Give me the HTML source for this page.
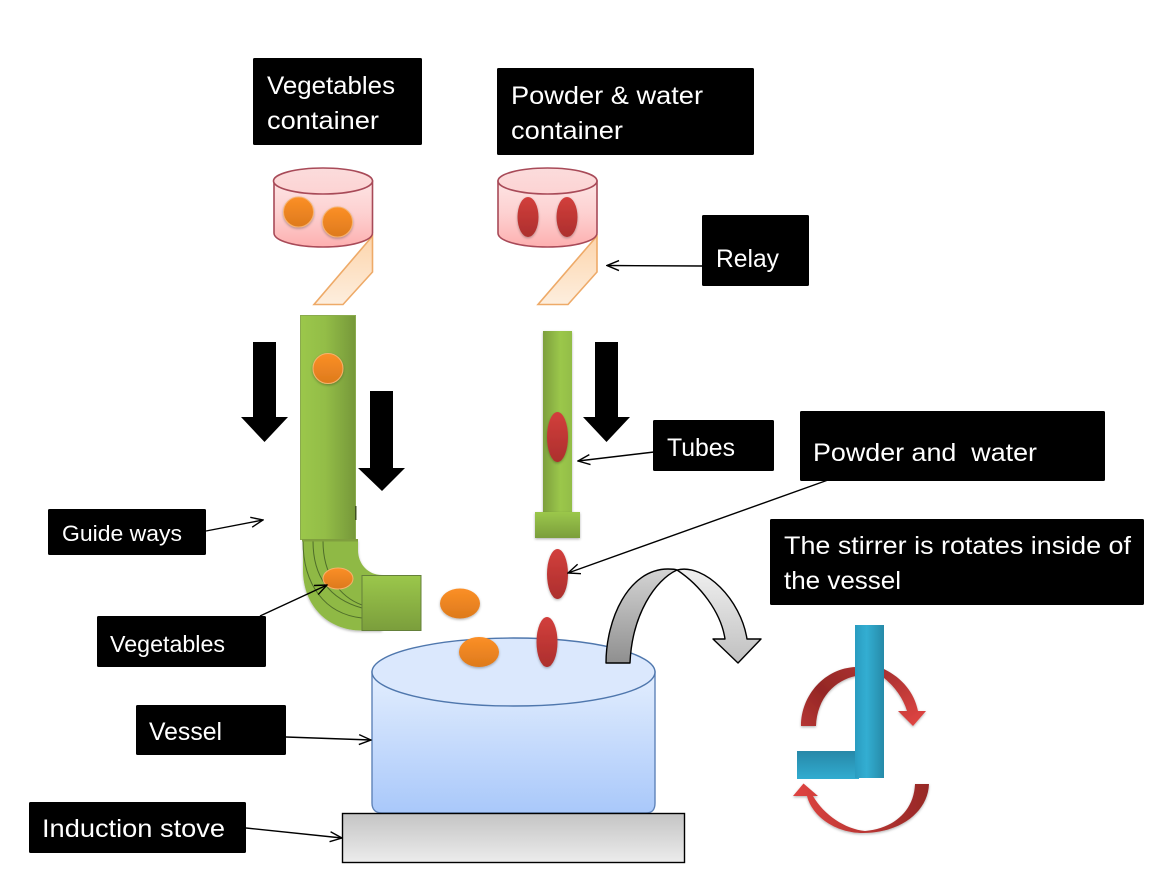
<!DOCTYPE html>
<html><head><meta charset="utf-8"><style>
html,body{margin:0;padding:0;background:#fff}
svg{display:block}
text{font-family:"Liberation Sans",sans-serif;fill:#fff;font-size:25px}
</style></head><body>
<svg width="1174" height="883" viewBox="0 0 1174 883" xmlns="http://www.w3.org/2000/svg">
<defs>
<filter id="sh" x="-20%" y="-20%" width="140%" height="140%"><feDropShadow dx="0" dy="1.200" stdDeviation="1.200" flood-color="#000" flood-opacity=".3"/></filter>
<linearGradient id="pink" x1="0" y1="0" x2="0" y2="1"><stop offset="0" stop-color="#fde4e4"/><stop offset=".5" stop-color="#fdd0d0"/><stop offset="1" stop-color="#fdb0b0"/></linearGradient>
<linearGradient id="pinktop" x1="0" y1="0" x2="0" y2="1"><stop offset="0" stop-color="#fbdcdc"/><stop offset="1" stop-color="#fdd3d3"/></linearGradient>
<linearGradient id="peach" x1="0" y1="0" x2="0" y2="1"><stop offset="0" stop-color="#fdd5ac"/><stop offset="1" stop-color="#fdeede"/></linearGradient>
<linearGradient id="gh" x1="0" y1="0" x2="1" y2="0"><stop offset="0" stop-color="#9bc74b"/><stop offset=".45" stop-color="#93bd47"/><stop offset="1" stop-color="#76983a"/></linearGradient>
<linearGradient id="gh2" x1="0" y1="0" x2="1" y2="0"><stop offset="0" stop-color="#7d9f3d"/><stop offset=".6" stop-color="#9bc74b"/><stop offset="1" stop-color="#93bd47"/></linearGradient>
<linearGradient id="gv" x1="0" y1="0" x2="0" y2="1"><stop offset="0" stop-color="#9bc74b"/><stop offset="1" stop-color="#7b9e3c"/></linearGradient>
<linearGradient id="or" x1="0" y1="0" x2="0" y2="1"><stop offset="0" stop-color="#fb8f26"/><stop offset="1" stop-color="#dd7a1d"/></linearGradient>
<linearGradient id="red" x1="0" y1="0" x2="0" y2="1"><stop offset="0" stop-color="#d23f3c"/><stop offset="1" stop-color="#ac2f2d"/></linearGradient>
<linearGradient id="blue" x1="0" y1="0" x2="0" y2="1"><stop offset="0" stop-color="#e3eefe"/><stop offset="1" stop-color="#a9c8fa"/></linearGradient>
<linearGradient id="stove" x1="0" y1="0" x2="0" y2="1"><stop offset="0" stop-color="#c4c4c4"/><stop offset="1" stop-color="#ececec"/></linearGradient>
<linearGradient id="grayL" x1="0" y1="0" x2="0" y2="1"><stop offset="0" stop-color="#d4d4d4"/><stop offset="1" stop-color="#8f8f8f"/></linearGradient>
<linearGradient id="grayR" x1="0" y1="0" x2="0" y2="1"><stop offset="0" stop-color="#f0f0f0"/><stop offset="1" stop-color="#c0c0c0"/></linearGradient>
<linearGradient id="tealV" x1="0" y1="0" x2="1" y2="0"><stop offset="0" stop-color="#2a9cc0"/><stop offset=".4" stop-color="#33aed2"/><stop offset="1" stop-color="#268aa8"/></linearGradient>
<linearGradient id="tealH" x1="0" y1="0" x2="0" y2="1"><stop offset="0" stop-color="#2788a8"/><stop offset="1" stop-color="#31acd0"/></linearGradient>
<linearGradient id="rA" gradientUnits="userSpaceOnUse" x1="801" y1="726" x2="856" y2="667"><stop offset="0" stop-color="#b53533"/><stop offset=".5" stop-color="#942725"/><stop offset="1" stop-color="#a83130"/></linearGradient>
<linearGradient id="rB" gradientUnits="userSpaceOnUse" x1="884" y1="670" x2="916" y2="726"><stop offset="0" stop-color="#a83130"/><stop offset="1" stop-color="#e04542"/></linearGradient>
<linearGradient id="rC" gradientUnits="userSpaceOnUse" x1="800" y1="790" x2="929" y2="790"><stop offset="0" stop-color="#dc4340"/><stop offset=".5" stop-color="#b93633"/><stop offset="1" stop-color="#962826"/></linearGradient>
<marker id="ah" markerUnits="userSpaceOnUse" markerWidth="14" markerHeight="12" refX="13" refY="6" orient="auto"><path d="M1 1 L13 6 L1 11" fill="none" stroke="#000" stroke-width="1.400"/></marker>
</defs>

<!-- containers -->
<path d="M372.500 236V272L343 304.500H314Z" fill="url(#peach)" stroke="#eeaa68" stroke-width="1.600"/>
<path d="M274 181V233C274 241 296 247 323 247C350 247 372.500 241 372.500 233V181Z" fill="url(#pink)" stroke="#a84a58" stroke-width="1.600"/>
<ellipse cx="323" cy="181" rx="49.500" ry="13" fill="url(#pinktop)" stroke="#a84a58" stroke-width="1.600"/>
<circle cx="298.500" cy="212" r="15" fill="url(#or)" stroke="#f7b26c" filter="url(#sh)"/>
<circle cx="337.500" cy="222" r="15" fill="url(#or)" stroke="#f7b26c" filter="url(#sh)"/>

<path d="M597 236V272L568 304.500H538Z" fill="url(#peach)" stroke="#eeaa68" stroke-width="1.600"/>
<path d="M498 181V233C498 241 520 247 547.500 247C575 247 597 241 597 233V181Z" fill="url(#pink)" stroke="#a84a58" stroke-width="1.600"/>
<ellipse cx="547.500" cy="181" rx="49.500" ry="13" fill="url(#pinktop)" stroke="#a84a58" stroke-width="1.600"/>
<ellipse cx="528" cy="217" rx="10.500" ry="20" fill="url(#red)" filter="url(#sh)"/>
<ellipse cx="567" cy="217" rx="10.500" ry="20" fill="url(#red)" filter="url(#sh)"/>

<!-- left tube -->
<path d="M303 540H358V550C358 564 368 575 382 575V630.500H362C327 630.500 303 605 303 570Z" fill="#8fb945" filter="url(#sh)"/>
<path d="M303 541C303 585 325 614 362 618M313 541C313 580 333 600 362 608M323 541C323 575 340 597 362 605" fill="none" stroke="#4f6e2a" stroke-width="1"/>
<rect x="300.500" y="315.500" width="55" height="224" fill="url(#gh)" stroke="#8aab4d"/>
<rect x="302" y="539" width="56" height="2.500" fill="#7f9f3e"/>
<rect x="355" y="506" width="1.500" height="14" fill="#3f5020"/>
<rect x="362" y="575.500" width="59" height="55" fill="url(#gv)" stroke="#64803a"/>
<circle cx="328" cy="368.500" r="15" fill="url(#or)" stroke="#f7b26c" filter="url(#sh)"/>
<ellipse cx="338" cy="578.500" rx="15" ry="10.500" fill="url(#or)" stroke="#f7b26c"/>

<!-- right tube -->
<rect x="543" y="331" width="29" height="182" fill="url(#gh2)" filter="url(#sh)"/>
<rect x="535" y="512" width="45" height="26" fill="url(#gv)" filter="url(#sh)"/>
<ellipse cx="557.500" cy="437" rx="10.500" ry="25" fill="url(#red)" filter="url(#sh)"/>

<!-- falling drops -->
<ellipse cx="557.500" cy="574" rx="10.500" ry="25" fill="url(#red)" filter="url(#sh)"/>
<ellipse cx="460" cy="603.500" rx="20" ry="15" fill="url(#or)" filter="url(#sh)"/>

<!-- black block arrows -->
<path d="M253 342H276V417H288L264.500 442L241 417H253Z" fill="#000"/>
<path d="M370 391H393V468H405L382 491L358 468H370Z" fill="#000"/>
<path d="M595 342H618V417H630L606.500 442L583 417H595Z" fill="#000"/>

<!-- vessel -->
<path d="M372 672V803C372 810 376 813 382 813H646C652 813 655 810 655 803V672Z" fill="url(#blue)" stroke="#5f83b8" stroke-width="1.400"/>
<ellipse cx="513.500" cy="672" rx="141.500" ry="34" fill="#dbe8fd" stroke="#4f77ad" stroke-width="1.400"/>
<ellipse cx="479" cy="652" rx="20" ry="15" fill="url(#or)" filter="url(#sh)"/>
<ellipse cx="547" cy="642" rx="10.500" ry="25" fill="url(#red)" filter="url(#sh)"/>

<!-- stove -->
<rect x="342.500" y="813.500" width="342" height="49" fill="url(#stove)" stroke="#000" stroke-width="1.400"/>

<!-- curved arrow -->
<path d="M677 570C705 563 741 600 747 639H761L738 663L713 639H725C721 612 700 585 677 570Z" fill="url(#grayR)" stroke="#000" stroke-width="1.400" stroke-linejoin="round"/>
<path d="M606 663C606 620 628 569 668 569C672 569 675 569 677 570C655 580 632 615 630 663Z" fill="url(#grayL)" stroke="#000" stroke-width="1.400" stroke-linejoin="round"/>

<!-- stirrer arrows -->
<path d="M801 726C801 695 825 668 856 667V676C835 680 817 698 816 726Z" fill="url(#rA)" filter="url(#sh)"/>
<path d="M884 669C902 678 914 692 918 711H926L913 726L898 711H907C903 698 895 687 884 678Z" fill="url(#rB)" filter="url(#sh)"/>
<path d="M929 784C928 812 900 833 863 833C835 833 812 816 807 796H793L803.500 783.500L818 796H813C824 815 845 829 865 831C892 829 914 812 915 784Z" fill="url(#rC)" filter="url(#sh)"/>

<!-- stirrer -->
<rect x="797" y="751" width="62" height="28" fill="url(#tealH)"/>
<rect x="855" y="625" width="29" height="153" fill="url(#tealV)"/>

<!-- connector lines -->
<g stroke="#000" stroke-width="1.400" fill="none" marker-end="url(#ah)">
<line x1="702" y1="266" x2="607" y2="265.500"/>
<line x1="654" y1="452" x2="578" y2="461"/>
<line x1="828" y1="480" x2="568" y2="573"/>
<line x1="206" y1="531" x2="263" y2="520"/>
<line x1="260" y1="616" x2="327" y2="585"/>
<line x1="286" y1="737" x2="371" y2="740"/>
<line x1="246" y1="828" x2="342" y2="838"/>
</g>

<!-- labels -->
<rect x="253" y="58" width="169" height="87" rx="1.500"/>
<text x="267" y="94" textLength="128" lengthAdjust="spacingAndGlyphs">Vegetables</text>
<text x="267" y="129" textLength="112" lengthAdjust="spacingAndGlyphs">container</text>
<rect x="497" y="68" width="257" height="87" rx="1.500"/>
<text x="511" y="104" textLength="192" lengthAdjust="spacingAndGlyphs">Powder &amp; water</text>
<text x="511" y="139" textLength="112" lengthAdjust="spacingAndGlyphs">container</text>
<rect x="702" y="215" width="107" height="71" rx="1.500"/>
<text x="716" y="267" textLength="63" lengthAdjust="spacingAndGlyphs">Relay</text>
<rect x="653" y="420" width="121" height="51" rx="1.500"/>
<text x="667" y="456" textLength="68" lengthAdjust="spacingAndGlyphs">Tubes</text>
<rect x="800" y="411" width="305" height="70" rx="1.500"/>
<text x="813" y="461" textLength="224" lengthAdjust="spacingAndGlyphs" xml:space="preserve">Powder and  water</text>
<rect x="770" y="519" width="374" height="86" rx="1.500"/>
<text x="784" y="554" textLength="347" lengthAdjust="spacingAndGlyphs">The stirrer is rotates inside of</text>
<text x="784" y="589" textLength="117" lengthAdjust="spacingAndGlyphs">the vessel</text>
<rect x="48" y="509" width="158" height="46" rx="1.500"/>
<text x="62" y="541" textLength="120" lengthAdjust="spacingAndGlyphs" style="font-size:22px">Guide ways</text>
<rect x="97" y="616" width="169" height="51" rx="1.500"/>
<text x="110" y="652" textLength="115" lengthAdjust="spacingAndGlyphs" style="font-size:23px">Vegetables</text>
<rect x="136" y="705" width="150" height="50" rx="1.500"/>
<text x="149" y="740" textLength="73" lengthAdjust="spacingAndGlyphs">Vessel</text>
<rect x="29" y="802" width="217" height="51" rx="1.500"/>
<text x="42" y="837" textLength="183" lengthAdjust="spacingAndGlyphs">Induction stove</text>
</svg>
</body></html>
